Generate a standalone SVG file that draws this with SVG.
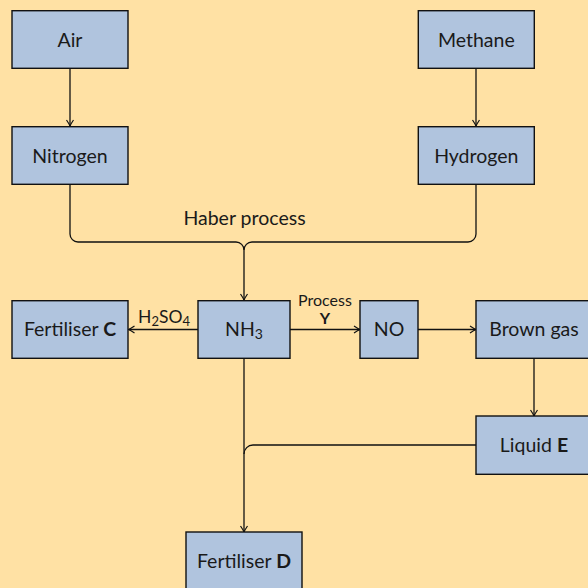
<svg xmlns="http://www.w3.org/2000/svg" width="588" height="588" viewBox="0 0 588 588">
<defs>
<style>
.box{fill:#b0c4de;stroke:#111;stroke-width:1.4}
.lbl{font-family:Lato,"Liberation Sans",sans-serif;font-size:19.5px;fill:#1a1a1a;text-anchor:middle}
.sm{font-family:Lato,"Liberation Sans",sans-serif;font-size:16px;fill:#1a1a1a;text-anchor:middle}
.edge{fill:none;stroke:#111;stroke-width:1.3}
</style>
<marker id="arr" viewBox="-8 -5 10 10" refX="0" refY="0" markerWidth="10" markerHeight="10" markerUnits="userSpaceOnUse" orient="auto">
<path d="M-6,-3.5 Q-2,-0.8 0,0 Q-2,0.8 -6,3.5" fill="none" stroke="#111" stroke-width="1.2"/>
</marker>
</defs>
<rect width="588" height="588" fill="#ffe1a4"/>
<g id="connectors">
<path class="edge" d="M70,68.5 V126" marker-end="url(#arr)"/>
<path class="edge" d="M476,68.5 V126" marker-end="url(#arr)"/>
<path class="edge" d="M70,184 V234 A8,8 0 0 0 78,242 H236 A8,8 0 0 1 244,250 V300" marker-end="url(#arr)"/>
<path class="edge" d="M476,184 V234 A8,8 0 0 1 468,242 H252 A8,8 0 0 0 244,250"/>
<path class="edge" d="M198,329.5 H128.5" marker-end="url(#arr)"/>
<path class="edge" d="M290,329.5 H360" marker-end="url(#arr)"/>
<path class="edge" d="M418,329.5 H476" marker-end="url(#arr)"/>
<path class="edge" d="M534,358.3 V416" marker-end="url(#arr)"/>
<path class="edge" d="M244,358.3 V532" marker-end="url(#arr)"/>
<path class="edge" d="M476,445 H253 A9,9 0 0 0 244,454"/>
<text class="lbl" x="244.5" y="225">Haber process</text>
<text class="sm" x="164" y="323.3" style="font-size:17.5px">H<tspan style="font-size:13px" dy="3">2</tspan><tspan dy="-3">SO</tspan><tspan style="font-size:13px" dy="3">4</tspan></text>
<text class="sm" x="325" y="305.8">Process</text>
<text class="sm" x="325" y="324" font-weight="bold">Y</text>
</g>
<g id="air"><rect class="box" x="12" y="10.7" width="116" height="57.6"/><text class="lbl" x="70" y="46.5">Air</text></g>
<g id="nitrogen"><rect class="box" x="12" y="126.7" width="116" height="57.6"/><text class="lbl" x="70" y="162.5">Nitrogen</text></g>
<g id="methane"><rect class="box" x="418.3" y="10.7" width="116" height="57.6"/><text class="lbl" x="476.3" y="46.5">Methane</text></g>
<g id="hydrogen"><rect class="box" x="418.3" y="126.7" width="116" height="57.6"/><text class="lbl" x="476.3" y="162.5">Hydrogen</text></g>
<g id="fertC"><rect class="box" x="12" y="300.7" width="116" height="57.6"/><text class="lbl" x="70" y="336.3">Fertiliser <tspan font-weight="bold">C</tspan></text></g>
<g id="nh3"><rect class="box" x="198" y="300.7" width="92" height="57.6"/><text class="lbl" x="244" y="336.3">NH<tspan style="font-size:14px" dy="3">3</tspan></text></g>
<g id="no"><rect class="box" x="360" y="300.7" width="58" height="57.6"/><text class="lbl" x="389" y="336.3">NO</text></g>
<g id="brown"><rect class="box" x="476" y="300.7" width="116" height="57.6"/><text class="lbl" x="534" y="336.3">Brown gas</text></g>
<g id="liquidE"><rect class="box" x="476" y="416" width="116" height="58.3"/><text class="lbl" x="534" y="452">Liquid <tspan font-weight="bold">E</tspan></text></g>
<g id="fertD"><rect class="box" x="186" y="532" width="116" height="58"/><text class="lbl" x="244" y="568">Fertiliser <tspan font-weight="bold">D</tspan></text></g>
</svg>
